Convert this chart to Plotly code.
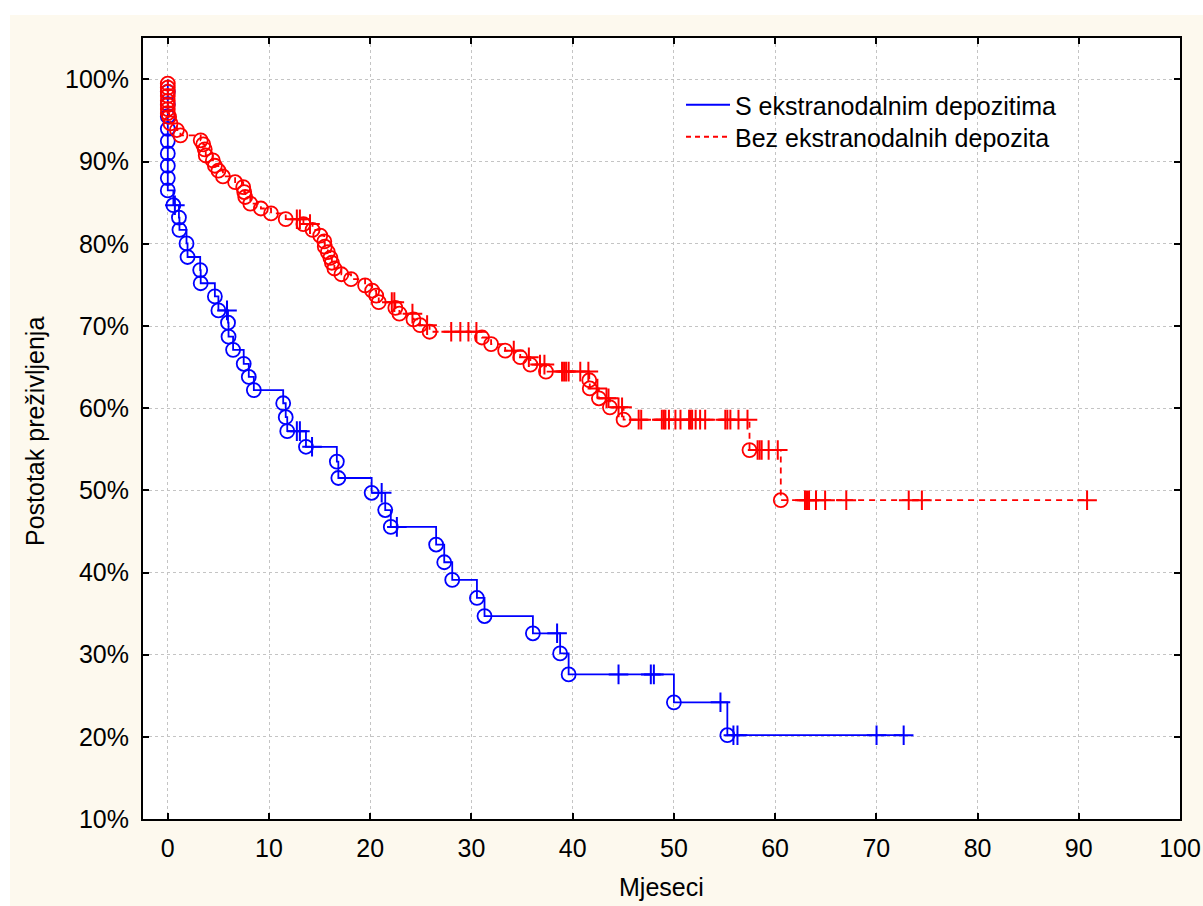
import plotly.graph_objects as go

# ---------------- data ----------------
x_ticks = [0, 10, 20, 30, 40, 50, 60, 70, 80, 90, 100]
y_ticks = [10, 20, 30, 40, 50, 60, 70, 80, 90, 100]
y_tick_labels = ["10%", "20%", "30%", "40%", "50%", "60%", "70%", "80%", "90%", "100%"]

series_names = ["S ekstranodalnim depozitima", "Bez ekstranodalnih depozita"]
x_title = "Mjeseci"
y_title = "Postotak preživljenja"

# "S ekstranodalnim depozitima" - event (death) times and survival after event (%)
blue_event_t = [0, 0, 0, 0, 0, 0, 0, 0, 0,
                0.55, 1.1, 1.15, 1.85, 1.95, 3.2, 3.25, 4.65, 5.0, 5.95,
                6.0, 6.45, 7.5, 8.0, 8.5, 11.4, 11.65, 11.8, 13.65, 16.7,
                16.85, 20.14, 21.48, 22.03, 26.51, 27.31, 28.1, 30.54, 31.29, 36.07,
                38.76, 39.6, 50.0, 55.28]
blue_event_s = [98.5, 97.0, 95.5, 94.0, 92.5, 91.0, 89.5, 88.0, 86.5,
                84.7, 83.2, 81.7, 80.05, 78.4, 76.8, 75.2, 73.6, 71.9, 70.4,
                68.7, 67.1, 65.4, 63.8, 62.2, 60.6, 58.9, 57.2, 55.3, 53.5,
                51.5, 49.7, 47.6, 45.55, 43.4, 41.25, 39.1, 36.9, 34.7, 32.6,
                30.15, 27.6, 24.2, 20.2]
blue_censor_t = [0.7, 5.85, 12.75, 13.05, 14.25, 21.13, 22.63, 38.46, 44.53, 47.72,
                 48.02, 54.6, 55.88, 56.28, 70.02, 72.7]

# "Bez ekstranodalnih depozita"
red_event_t = [0, 0, 0, 0, 0, 0, 0, 0,
               0.13, 0.27, 0.9, 1.25, 3.25, 3.5, 3.65, 3.75, 4.45, 4.65, 5.0,
               5.45, 6.65, 7.45, 7.55, 7.65, 8.15, 9.2, 10.2, 11.65, 13.4,
               14.3, 15.06, 15.46, 15.51, 15.81, 16.06, 16.21, 16.46, 17.15, 18.1,
               19.49, 20.19, 20.59, 20.84, 22.48, 22.88, 24.27, 24.92, 25.86, 31.04,
               31.94, 33.33, 34.82, 35.82, 37.36, 41.64, 41.69, 42.59, 43.68, 45.03,
               57.47, 60.56]
red_event_s = [99.5, 99.0, 98.5, 98.0, 97.4, 96.9, 96.4, 95.9,
               95.45, 94.65, 93.85, 93.2, 92.6, 92.1, 91.5, 90.75, 90.15, 89.5, 88.9,
               88.2, 87.5, 86.9, 86.3, 85.7, 84.9, 84.3, 83.7, 83.0, 82.4,
               81.7, 81.0, 80.3, 79.65, 79.0, 78.3, 77.7, 77.0, 76.3, 75.7,
               74.95, 74.3, 73.7, 72.9, 72.2, 71.5, 70.8, 70.1, 69.3, 68.6,
               67.8, 67.0, 66.2, 65.3, 64.45, 63.4, 62.4, 61.2, 60.1, 58.6,
               54.9, 48.8]
red_censor_t = [12.75, 13.05, 14.05, 22.13, 22.38, 24.17, 25.62, 28.0, 28.9, 29.7,
                30.49, 34.18, 35.67, 36.77, 37.21, 38.95, 39.15, 39.35, 39.6, 40.75,
                41.55, 42.44, 43.34, 43.54, 44.53, 44.88, 46.52, 46.77, 48.81, 49.01,
                49.16, 49.51, 50.15, 50.65, 51.5, 51.65, 51.8, 52.15, 52.59, 53.09,
                55.08, 55.28, 55.58, 56.38, 57.27, 58.27, 58.47, 58.67, 59.36, 60.26,
                62.95, 63.15, 63.35, 64.04, 64.94, 67.03, 73.2, 74.5, 90.82]

BLUE = "#0000ff"
RED = "#ff0000"
CREAM = "#fdf9ee"
FONT = "Liberation Sans, Arial, Helvetica, sans-serif"
FS = 25


def level_at(ev_t, ev_s, t):
    s = 100.0
    for et, es in zip(ev_t, ev_s):
        if et <= t:
            s = es
    return s


def step_xy(ev_t, ev_s, censor_t):
    end = max(censor_t[-1], ev_t[-1])
    return [0] + list(ev_t) + [end], [100.0] + list(ev_s) + [ev_s[-1]]


fig = go.Figure()

for ev_t, ev_s, cen_t, color, dash in [
    (blue_event_t, blue_event_s, blue_censor_t, BLUE, "solid"),
    (red_event_t, red_event_s, red_censor_t, RED, "6px,5px"),
]:
    sx, sy = step_xy(ev_t, ev_s, cen_t)
    fig.add_trace(go.Scatter(x=sx, y=sy, mode="lines",
                             line=dict(shape="hv", color=color, width=1.8, dash=dash),
                             showlegend=False, hoverinfo="skip"))
    fig.add_trace(go.Scatter(x=ev_t, y=ev_s, mode="markers",
                             marker=dict(symbol="circle-open", size=14, color=color,
                                         line=dict(width=1.8, color=color)),
                             showlegend=False))
    fig.add_trace(go.Scatter(x=cen_t, y=[level_at(ev_t, ev_s, t) for t in cen_t],
                             mode="markers",
                             marker=dict(symbol="cross-thin-open", size=14, color=color,
                                         line=dict(width=2, color=color)),
                             showlegend=False))

# legend-only entries (one legend box each, for exact placement)
fig.add_trace(go.Scatter(x=[None], y=[None], mode="lines", name=series_names[0],
                         line=dict(color=BLUE, width=1.8), legend="legend"))
fig.add_trace(go.Scatter(x=[None], y=[None], mode="lines", name=series_names[1],
                         line=dict(color=RED, width=1.8, dash="5px,4px"),
                         legend="legend2"))

W, H = 1203, 906
ML, MR, MT, MB = 143, 23, 38, 87
pw, ph = W - ML - MR, H - MT - MB


def px_x(p):
    return (p - ML) / pw


def px_y(p):
    return (H - MB - p) / ph


axis_common = dict(
    showline=True, linecolor="black", linewidth=2, mirror="ticks",
    ticks="inside", ticklen=6, tickwidth=1.5, tickcolor="black",
    showgrid=True, gridcolor="#c4c4c4", griddash="dot", gridwidth=1,
    zeroline=False, automargin=False,
    tickfont=dict(family=FONT, size=FS, color="black"),
)

legend_common = dict(xanchor="left", yanchor="middle",
                     bgcolor="rgba(0,0,0,0)", borderwidth=0,
                     font=dict(family=FONT, size=FS, color="black"),
                     itemwidth=44)

fig.update_layout(
    width=W, height=H,
    margin=dict(l=ML, r=MR, t=MT, b=MB, pad=0, autoexpand=False),
    paper_bgcolor=CREAM, plot_bgcolor="white",
    font=dict(family=FONT, size=FS, color="black"),
    xaxis=dict(range=[-2.45, 100], tickvals=x_ticks, ticklabelstandoff=6,
               **axis_common),
    yaxis=dict(range=[10, 105.05], tickvals=y_ticks, ticktext=y_tick_labels,
               ticklabelstandoff=7, **axis_common),
    legend=dict(x=px_x(681), y=px_y(105), **legend_common),
    legend2=dict(x=px_x(681), y=px_y(137), **legend_common),
    annotations=[
        dict(text=x_title, xref="paper", yref="paper", x=0.5, y=px_y(887),
             xanchor="center", yanchor="middle", showarrow=False,
             font=dict(family=FONT, size=FS, color="black")),
        dict(text=y_title, xref="paper", yref="paper", x=px_x(35), y=px_y(432),
             xanchor="center", yanchor="middle", showarrow=False, textangle=-90,
             font=dict(family=FONT, size=FS, color="black")),
    ],
    shapes=[
        dict(type="rect", xref="paper", yref="paper", layer="below",
             x0=px_x(0), x1=px_x(W), y0=px_y(15), y1=px_y(0),
             fillcolor="white", line=dict(width=0)),
        dict(type="rect", xref="paper", yref="paper", layer="below",
             x0=px_x(0), x1=px_x(10), y0=px_y(H), y1=px_y(0),
             fillcolor="white", line=dict(width=0)),
    ],
)

fig.write_html("out.html",
               config={"displayModeBar": False},
               post_script="document.body.style.margin='0px';"
                           "document.body.style.overflow='hidden';")
